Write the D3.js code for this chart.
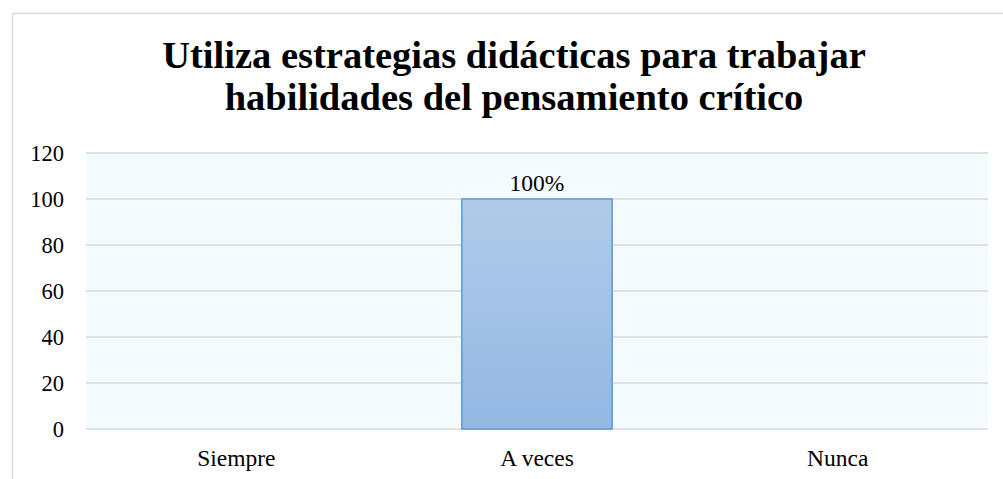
<!DOCTYPE html>
<html>
<head>
<meta charset="utf-8">
<script src="https://cdn.jsdelivr.net/npm/d3@7"></script>
<style>
  body { margin: 0; background: #fff; }
  svg { display: block; font-family: "Liberation Serif", "Times New Roman", serif; }
</style>
</head>
<body>
<svg id="chart" width="1003" height="479"></svg>
<script>
const categories = ['Siempre', 'A veces', 'Nunca'];
const values = [null, 100, null];
const yTicks = [0, 20, 40, 60, 80, 100, 120];
const titleLines = ['Utiliza estrategias didácticas para trabajar', 'habilidades del pensamiento crítico'];

const svg = d3.select('#chart');
const width = 1003;
const height = 479;

// chart frame
svg.append('rect')
  .attr('x', 12.5)
  .attr('y', 13.5)
  .attr('width', 1000)
  .attr('height', 480)
  .attr('fill', '#fff')
  .attr('stroke', '#d9d9d9')
  .attr('stroke-width', 1.5);

const margin = { top: 153, right: 15, bottom: 50, left: 86 };
const chartWidth = 988 - margin.left;
const chartHeight = 429 - margin.top;

const chart = svg.append('g')
  .attr('transform', `translate(${margin.left}, ${margin.top})`);

const x = d3.scaleBand()
  .domain(categories)
  .range([0, chartWidth])
  .paddingInner(0.5)
  .paddingOuter(0.25);

const y = d3.scaleLinear()
  .domain([0, 120])
  .range([chartHeight, 0]);

const defs = svg.append('defs');
const grad = defs.append('linearGradient')
  .attr('id', 'barGrad')
  .attr('x1', 0).attr('y1', 0)
  .attr('x2', 0).attr('y2', 1);
grad.append('stop').attr('offset', '0%').attr('stop-color', '#b1cbe9');
grad.append('stop').attr('offset', '100%').attr('stop-color', '#94b8e3');

// plot background
chart.append('rect')
  .attr('x', 0)
  .attr('y', 0)
  .attr('width', chartWidth)
  .attr('height', chartHeight)
  .attr('fill', '#f3fbfe');

// gridlines
chart.append('g')
  .selectAll('line')
  .data(yTicks)
  .enter()
  .append('line')
  .attr('x1', 0)
  .attr('x2', chartWidth)
  .attr('y1', d => y(d))
  .attr('y2', d => y(d))
  .attr('stroke', '#d9d9d9')
  .attr('stroke-width', 1.5);

// y axis labels
const yAxis = chart.append('g')
  .call(d3.axisLeft(y).tickValues(yTicks).tickSize(0).tickPadding(22));
yAxis.select('.domain').remove();
yAxis.selectAll('text')
  .style('font-family', '"Liberation Serif", serif')
  .style('font-size', '22.5px')
  .attr('fill', '#000');

// x axis labels
const xAxis = chart.append('g')
  .attr('transform', `translate(0, ${chartHeight})`)
  .call(d3.axisBottom(x).tickSize(0).tickPadding(20));
xAxis.select('.domain').remove();
xAxis.selectAll('text')
  .style('font-family', '"Liberation Serif", serif')
  .style('font-size', '23.5px')
  .attr('fill', '#000');

const barData = categories
  .map((c, i) => ({ category: c, value: values[i] }))
  .filter(d => d.value != null);

chart.selectAll('.bar')
  .data(barData)
  .enter()
  .append('rect')
  .attr('class', 'bar')
  .attr('x', d => x(d.category))
  .attr('y', d => y(d.value))
  .attr('width', x.bandwidth())
  .attr('height', d => chartHeight - y(d.value))
  .attr('fill', 'url(#barGrad)')
  .attr('stroke', '#5b9bd5')
  .attr('stroke-width', 1.5);

chart.selectAll('.value-label')
  .data(barData)
  .enter()
  .append('text')
  .attr('class', 'value-label')
  .attr('x', d => x(d.category) + x.bandwidth() / 2)
  .attr('y', d => y(d.value) - 8)
  .attr('text-anchor', 'middle')
  .style('font-size', '23.5px')
  .attr('fill', '#000')
  .text(d => d.value + '%');

// title
svg.append('text')
  .attr('x', 514)
  .attr('y', 68)
  .attr('text-anchor', 'middle')
  .style('font-size', '38.5px')
  .style('font-weight', 'bold')
  .selectAll('tspan')
  .data(titleLines)
  .enter()
  .append('tspan')
  .attr('x', 514)
  .attr('dy', (d, i) => i === 0 ? 0 : 42)
  .text(d => d);
</script>
</body>
</html>
